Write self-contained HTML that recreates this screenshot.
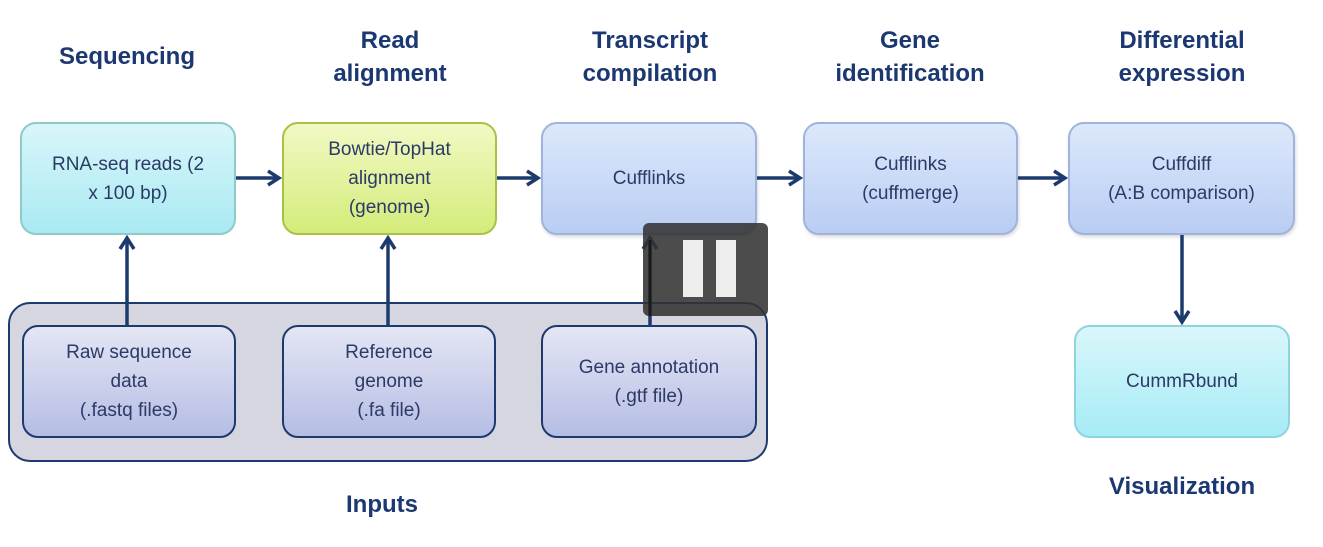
<!DOCTYPE html>
<html><head><meta charset="utf-8"><style>
body{margin:0;width:1323px;height:547px;background:#fff;position:relative;overflow:hidden;font-family:"Liberation Sans",sans-serif}
.h{position:absolute;color:#1c3872;font-weight:bold;font-size:24px;line-height:33px;text-align:center;transform:translateX(-50%);white-space:nowrap}
.b{position:absolute;box-sizing:border-box;border-radius:16px;display:flex;align-items:center;justify-content:center;text-align:center;font-size:19px;line-height:29px;color:#2b3a66}
.top{border:2px solid #9fb3dc;background:linear-gradient(#dce8fb,#b9cdf3);box-shadow:1px 2px 3px rgba(0,0,0,.15)}
.inp{border:2.5px solid #1d3a6e;background:linear-gradient(#e4e6f4,#b6bde4)}
</style></head><body>
<div class="h" style="left:127px;top:40px">Sequencing</div>
<div class="h" style="left:390px;top:24px">Read<br>alignment</div>
<div class="h" style="left:650px;top:24px">Transcript<br>compilation</div>
<div class="h" style="left:910px;top:24px">Gene<br>identification</div>
<div class="h" style="left:1182px;top:24px">Differential<br>expression</div>
<div class="h" style="left:382px;top:488px">Inputs</div>
<div class="h" style="left:1182px;top:470px">Visualization</div>

<div style="position:absolute;left:8px;top:302px;width:760px;height:160px;box-sizing:border-box;border:2px solid #1d3a6e;border-radius:22px;background:#d5d6df"></div>

<div class="b" style="left:20px;top:122px;width:216px;height:113px;border:2px solid #8fc9c9;background:linear-gradient(#d8f6fa,#a9eaf2)">RNA-seq reads (2<br>x 100 bp)</div>
<div class="b" style="left:282px;top:122px;width:215px;height:113px;border:2px solid #a9c245;background:linear-gradient(#f1f9c4,#d4ec7a)">Bowtie/TopHat<br>alignment<br>(genome)</div>
<div class="b top" style="left:541px;top:122px;width:216px;height:113px">Cufflinks</div>
<div class="b top" style="left:803px;top:122px;width:215px;height:113px">Cufflinks<br>(cuffmerge)</div>
<div class="b top" style="left:1068px;top:122px;width:227px;height:113px">Cuffdiff<br>(A:B comparison)</div>
<div class="b" style="left:1074px;top:325px;width:216px;height:113px;border:2px solid #8fd3de;background:linear-gradient(#d9f6fb,#a6ecf6)">CummRbund</div>

<div class="b inp" style="left:22px;top:325px;width:214px;height:113px">Raw sequence<br>data<br>(.fastq files)</div>
<div class="b inp" style="left:282px;top:325px;width:214px;height:113px">Reference<br>genome<br>(.fa file)</div>
<div class="b inp" style="left:541px;top:325px;width:216px;height:113px">Gene annotation<br>(.gtf file)</div>

<svg style="position:absolute;left:0;top:0" width="1323" height="547">
<defs><marker id="a" markerWidth="16" markerHeight="18" refX="13" refY="9" orient="auto" markerUnits="userSpaceOnUse"><path d="M2,2 L13,9 L2,16" fill="none" stroke="#1d3a6e" stroke-width="3.5"/></marker></defs>
<g stroke="#1d3a6e" stroke-width="3.5" marker-end="url(#a)">
<line x1="236" y1="178" x2="279" y2="178"/>
<line x1="497" y1="178" x2="538" y2="178"/>
<line x1="757" y1="178" x2="800" y2="178"/>
<line x1="1018" y1="178" x2="1065" y2="178"/>
<line x1="127" y1="325" x2="127" y2="238"/>
<line x1="388" y1="325" x2="388" y2="238"/>
<line x1="650" y1="325" x2="650" y2="238"/>
<line x1="1182" y1="235" x2="1182" y2="322"/>
</g>
<rect x="643" y="223" width="125" height="93" rx="6" fill="#333" fill-opacity=".88"/>
<line x1="650" y1="316" x2="650" y2="240" stroke="#1a1a1a" stroke-width="3"/>
<rect x="683" y="240" width="20" height="57" fill="#eee"/>
<rect x="716" y="240" width="20" height="57" fill="#eee"/>
</svg>
</body></html>
